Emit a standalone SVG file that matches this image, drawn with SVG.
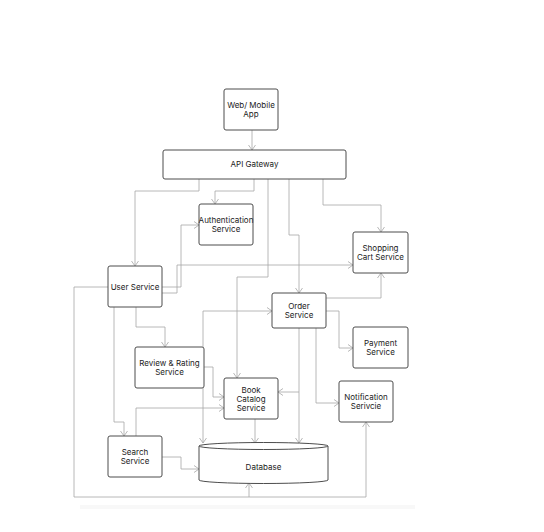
<svg xmlns="http://www.w3.org/2000/svg" width="544" height="532" viewBox="0 0 544 532">
<style>
.box{fill:#ffffff;stroke:#4d4d4d;stroke-width:1}
.lbl{font-family:Inter,"Noto Sans","Liberation Sans",sans-serif;font-size:8px;fill:#222;text-anchor:middle}
.c{fill:none;stroke:#a6a6a6;stroke-width:0.8;stroke-linejoin:round;marker-end:url(#arr)}
.cn{fill:none;stroke:#a6a6a6;stroke-width:0.8;stroke-linejoin:round}
</style>
<defs>
<marker id="arr" markerUnits="userSpaceOnUse" markerWidth="12" markerHeight="12" refX="0" refY="0" viewBox="-7 -6 8 12" orient="auto" overflow="visible">
<path d="M-5,-3.5 L0,0 L-5,3.5" fill="none" stroke="#a6a6a6" stroke-width="0.8"/>
</marker>
</defs>
<rect x="0" y="0" width="544" height="532" fill="#ffffff"/>
<rect x="80" y="505" width="335" height="4" fill="#f8f8f8"/>
<g id="connectors">
<path class="c" d="M252,130 V150"/>
<path class="c" d="M199,179 V191 H135 V266"/>
<path class="c" d="M254,179 V191 H215 V204"/>
<path class="c" d="M268,179 V277 H237 V378"/>
<path class="c" d="M289,179 V235 H299 V293"/>
<path class="c" d="M323,179 V205 H381 V232"/>
<path class="c" d="M162,287 H181 V225 H199"/>
<path class="c" d="M162,293 H177 V265 H353"/>
<path class="c" d="M136,307 V327 H165 V347"/>
<path class="c" d="M114,307 V422 H124 V436"/>
<path class="c" d="M108,287 H74 V497 H366 V422"/>
<path class="c" d="M249,497 V483"/>
<path class="c" d="M203,347 V311 H272"/>
<path class="c" d="M203,388 V443"/>
<path class="c" d="M204,367 H213 V397 H224"/>
<path class="c" d="M136,436 V408 H224"/>
<path class="c" d="M162,457 H181 V469 H199"/>
<path class="c" d="M255,419 V443"/>
<path class="c" d="M299,328 V392 H278"/>
<path class="c" d="M299,392 V443"/>
<path class="c" d="M316,328 V403 H339"/>
<path class="c" d="M326,311 H339 V348 H353"/>
<path class="c" d="M326,298 H381 V273"/>
</g>
<g id="web">
<rect class="box" x="224" y="89" width="54" height="41" rx="2"/>
<text class="lbl" x="251" y="108">Web/ Mobile</text>
<text class="lbl" x="251" y="117">App</text>
</g>
<g id="api">
<rect class="box" x="163" y="150" width="183" height="29" rx="2"/>
<text class="lbl" x="254.5" y="167">API Gateway</text>
</g>
<g id="auth">
<rect class="box" x="199" y="204" width="54" height="41" rx="2"/>
<text class="lbl" x="226" y="223">Authentication</text>
<text class="lbl" x="226" y="232">Service</text>
</g>
<g id="cart">
<rect class="box" x="353" y="232" width="55" height="41" rx="2"/>
<text class="lbl" x="380.5" y="251">Shopping</text>
<text class="lbl" x="380.5" y="260">Cart Service</text>
</g>
<g id="user">
<rect class="box" x="108" y="266" width="54" height="41" rx="2"/>
<text class="lbl" x="135" y="290">User Service</text>
</g>
<g id="order">
<rect class="box" x="272" y="293" width="54" height="35" rx="2"/>
<text class="lbl" x="299" y="309">Order</text>
<text class="lbl" x="299" y="318">Service</text>
</g>
<g id="payment">
<rect class="box" x="353" y="327" width="55" height="41" rx="2"/>
<text class="lbl" x="380.5" y="346">Payment</text>
<text class="lbl" x="380.5" y="355">Service</text>
</g>
<g id="review">
<rect class="box" x="135" y="347" width="69" height="41" rx="2"/>
<text class="lbl" x="169.5" y="366">Review &amp; Rating</text>
<text class="lbl" x="169.5" y="375">Service</text>
</g>
<g id="book">
<rect class="box" x="224" y="378" width="54" height="41" rx="2"/>
<text class="lbl" x="251" y="393">Book</text>
<text class="lbl" x="251" y="402">Catalog</text>
<text class="lbl" x="251" y="411">Service</text>
</g>
<g id="notification">
<rect class="box" x="339" y="381" width="54" height="41" rx="2"/>
<text class="lbl" x="366" y="400">Notification</text>
<text class="lbl" x="366" y="409">Serivcie</text>
</g>
<g id="search">
<rect class="box" x="108" y="436" width="54" height="41" rx="2"/>
<text class="lbl" x="135" y="455">Search</text>
<text class="lbl" x="135" y="464">Service</text>
</g>
<g id="database">
<path class="box" d="M199,446 V480 A64.5,3.5 0 0 0 328,480 V446 A64.5,3.5 0 0 0 199,446 Z"/>
<path class="box" d="M199,446 A64.5,3.5 0 0 0 328,446" fill="none"/>
<text class="lbl" x="263.5" y="470">Database</text>
</g>
</svg>
